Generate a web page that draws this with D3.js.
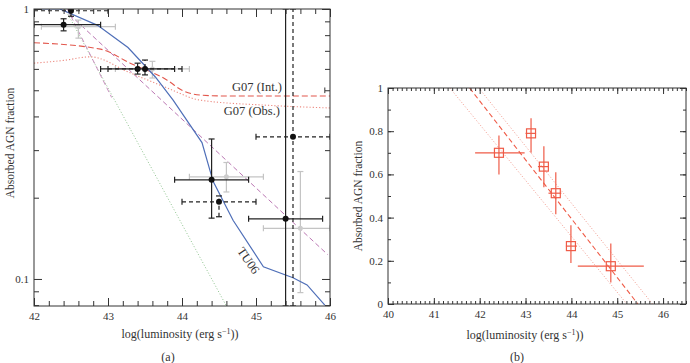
<!DOCTYPE html>
<html>
<head>
<meta charset="utf-8">
<script src="https://cdn.jsdelivr.net/npm/d3@7"></script>
<style>
  body { margin: 0; background: #fff; }
  svg { display: block; font-family: "Liberation Serif", "DejaVu Serif", serif; }
  .axis path { display: none; }
  .axis .tick line { stroke: #333; }
  .axis .tick text { font-size: 11px; fill: #333; font-family: "Liberation Serif", serif; }
  .titulo { font-size: 12px; fill: #333; }
</style>
</head>
<body>
<div id="grafica"></div>
<script>
// ---- panel (a) datos ----
const blackX    = [42.4, 42.5, 43.4, 43.5, 44.4, 44.5, 45.4, 45.5];
const blackY    = [0.875, 0.985, 0.6, 0.6, 0.233, 0.193, 0.167, 0.336];
const blackXLo  = [42.0, 42.0, 42.9, 43.0, 43.9, 44.0, 44.9, 45.0];
const blackXHi  = [42.9, 43.0, 43.9, 44.0, 44.9, 45.0, 45.9, 46.0];
const blackYLo  = [0.83, 0.94, 0.574, 0.57, 0.168, 0.17, 0.0794, 0.0794];
const blackYHi  = [0.92, 1.0, 0.63, 0.647, 0.33, 0.203, 1.0, 1.0];
const blackDash = [false, true, false, true, false, true, false, true];

const grayX   = [42.6, 43.6, 44.6, 45.6];
const grayY   = [0.86, 0.6, 0.239, 0.154];
const grayXLo = [42.1, 43.1, 44.1, 45.1];
const grayXHi = [43.1, 44.1, 45.1, 46.0];
const grayYLo = [0.78, 0.555, 0.21, 0.089];
const grayYHi = [0.91, 0.64, 0.27, 0.25];

// TU06 (linea azul)
const tuX = [42, 42.35, 42.86, 43.27, 43.64, 43.88, 44.27, 44.42, 44.69, 45.1, 45.5, 45.69, 45.93];
const tuY = [1, 1, 0.87, 0.72, 0.56, 0.46, 0.32, 0.23, 0.165, 0.111, 0.101, 0.095, 0.08];

// G07 (Int.) y G07 (Obs.)
const intX = [42, 42.9, 43.3, 43.8, 44.0, 44.25, 44.6, 46];
const intY = [0.75, 0.71, 0.63, 0.545, 0.5, 0.48, 0.476, 0.476];
const obsX = [42, 42.4, 42.76, 43.3, 43.8, 44.24, 45.15, 46];
const obsY = [0.63, 0.645, 0.665, 0.58, 0.51, 0.46, 0.44, 0.43];

// rectas de ajuste
const purpleX = [42.4, 45.97];
const purpleY = [1.0, 0.123];
const purple2X = [42.45, 43.05];
const purple2Y = [1.0, 0.47];
const greenX = [42.42, 44.6];
const greenY = [1.0, 0.0794];

// ---- panel (b) datos ----
const bX   = [42.42, 43.12, 43.4, 43.66, 43.99, 44.86];
const bY   = [0.70, 0.79, 0.636, 0.513, 0.268, 0.175];
const bXLo = [41.9, 43.0, 43.27, 43.5, 43.88, 44.14];
const bXHi = [42.98, 43.23, 43.51, 43.78, 44.12, 45.58];
const bYLo = [0.60, 0.70, 0.54, 0.415, 0.19, 0.10];
const bYHi = [0.78, 0.86, 0.73, 0.61, 0.365, 0.28];

const fitX  = [41.78, 45.45];
const fitY  = [1, 0];
const loX   = [41.35, 45.21];
const hiX   = [41.98, 45.77];

// ticks
const aMajorX = [42, 43, 44, 45, 46];
const aMinorX = d3.range(42, 46.01, 0.2);
const aMajorY = [0.1, 1];
const aMinorY = [0.08, 0.09, 0.2, 0.3, 0.4, 0.5, 0.6, 0.7, 0.8, 0.9];
const bMajorX = [40, 41, 42, 43, 44, 45, 46];
const bMinorX = d3.range(40, 46.51, 0.1);
const bMajorY = [0, 0.2, 0.4, 0.6, 0.8, 1];
const bMinorY = d3.range(0, 1.01, 0.1);

const W = 690, H = 363;
const svg = d3.select("#grafica").append("svg")
  .attr("width", W).attr("height", H);

const boxA = { left: 34, right: 330, top: 9, bottom: 306 };
const boxB = { left: 388, right: 686, top: 88, bottom: 304 };

const xA = d3.scaleLinear().domain([42, 46]).range([boxA.left, boxA.right]);
const yA = d3.scaleLog().domain([0.0794, 1]).range([boxA.bottom, boxA.top]);
const xB = d3.scaleLinear().domain([40, 46.5]).range([boxB.left, boxB.right]);
const yB = d3.scaleLinear().domain([0, 1]).range([boxB.bottom, boxB.top]);

function ejes(box, x, y, majX, minX, majY, minY, fmtY, lenMaj, lenMin) {
  const g = svg.append("g");
  const add = (axis, tr) => g.append("g").attr("class", "axis")
    .attr("transform", tr).call(axis);
  // minor
  add(d3.axisBottom(x).tickValues(minX).tickFormat("").tickSizeInner(-lenMin).tickSizeOuter(0), `translate(0,${box.bottom})`);
  add(d3.axisTop(x).tickValues(minX).tickFormat("").tickSizeInner(-lenMin).tickSizeOuter(0), `translate(0,${box.top})`);
  add(d3.axisLeft(y).tickValues(minY).tickFormat("").tickSizeInner(-lenMin).tickSizeOuter(0), `translate(${box.left},0)`);
  add(d3.axisRight(y).tickValues(minY).tickFormat("").tickSizeInner(-lenMin).tickSizeOuter(0), `translate(${box.right},0)`);
  // major
  add(d3.axisBottom(x).tickValues(majX).tickFormat(d3.format("d")).tickSizeInner(-lenMaj).tickSizeOuter(0).tickPadding(6), `translate(0,${box.bottom})`);
  add(d3.axisTop(x).tickValues(majX).tickFormat("").tickSizeInner(-lenMaj).tickSizeOuter(0), `translate(0,${box.top})`);
  add(d3.axisLeft(y).tickValues(majY).tickFormat(fmtY).tickSizeInner(-lenMaj).tickSizeOuter(0).tickPadding(5), `translate(${box.left},0)`);
  add(d3.axisRight(y).tickValues(majY).tickFormat("").tickSizeInner(-lenMaj).tickSizeOuter(0), `translate(${box.right},0)`);
  g.append("rect")
    .attr("x", box.left).attr("y", box.top)
    .attr("width", box.right - box.left).attr("height", box.bottom - box.top)
    .attr("fill", "none").attr("stroke", "#333").attr("stroke-width", 1);
}

function clip(id, box) {
  svg.append("clipPath").attr("id", id).append("rect")
    .attr("x", box.left).attr("y", box.top)
    .attr("width", box.right - box.left).attr("height", box.bottom - box.top);
}
clip("clipA", boxA);
clip("clipB", boxB);

const zip = (xs, ys) => xs.map((v, i) => [v, ys[i]]);

// ================= panel (a) =================
const pa = svg.append("g").attr("clip-path", "url(#clipA)");
const lineA = d3.line().x(d => xA(d[0])).y(d => yA(d[1]));
const curveA = d3.line().x(d => xA(d[0])).y(d => yA(d[1])).curve(d3.curveMonotoneX);

pa.append("path").attr("d", lineA(zip(greenX, greenY)))
  .attr("fill", "none").attr("stroke", "#8fc48f").attr("stroke-width", 1).attr("stroke-dasharray", "1,2");
pa.append("path").attr("d", lineA(zip(purpleX, purpleY)))
  .attr("fill", "none").attr("stroke", "#bb77b3").attr("stroke-width", 1).attr("stroke-dasharray", "5,3");
pa.append("path").attr("d", lineA(zip(purple2X, purple2Y)))
  .attr("fill", "none").attr("stroke", "#c98fbf").attr("stroke-width", 1).attr("stroke-dasharray", "5,3");
pa.append("path").attr("d", curveA(zip(intX, intY)))
  .attr("fill", "none").attr("stroke", "#e2574c").attr("stroke-width", 1.1).attr("stroke-dasharray", "6,3");
pa.append("path").attr("d", curveA(zip(obsX, obsY)))
  .attr("fill", "none").attr("stroke", "#ec8a80").attr("stroke-width", 1.1).attr("stroke-dasharray", "1.2,2");

// puntos grises
grayX.forEach((v, i) => {
  const g = pa.append("g").attr("stroke", "#c4c4c4").attr("stroke-width", 1.2);
  g.append("line").attr("x1", xA(grayXLo[i])).attr("x2", xA(grayXHi[i])).attr("y1", yA(grayY[i])).attr("y2", yA(grayY[i]));
  g.append("line").attr("x1", xA(v)).attr("x2", xA(v)).attr("y1", yA(grayYLo[i])).attr("y2", yA(grayYHi[i]));
  [grayXLo[i], grayXHi[i]].forEach(e => g.append("line")
    .attr("x1", xA(e)).attr("x2", xA(e)).attr("y1", yA(grayY[i]) - 3).attr("y2", yA(grayY[i]) + 3));
  [grayYLo[i], grayYHi[i]].forEach(e => g.append("line")
    .attr("x1", xA(v) - 3).attr("x2", xA(v) + 3).attr("y1", yA(e)).attr("y2", yA(e)));
  pa.append("circle").attr("cx", xA(v)).attr("cy", yA(grayY[i])).attr("r", 2.5).attr("fill", "#cccccc");
});

// TU06
pa.append("path").attr("d", lineA(zip(tuX, tuY)))
  .attr("fill", "none").attr("stroke", "#4f6fb8").attr("stroke-width", 1.2);

// puntos negros
blackX.forEach((v, i) => {
  const g = pa.append("g").attr("stroke", "#222").attr("stroke-width", 1.2)
    .attr("stroke-dasharray", blackDash[i] ? "4,3" : null);
  g.append("line").attr("x1", xA(blackXLo[i])).attr("x2", xA(blackXHi[i])).attr("y1", yA(blackY[i])).attr("y2", yA(blackY[i]));
  g.append("line").attr("x1", xA(v)).attr("x2", xA(v)).attr("y1", yA(blackYLo[i])).attr("y2", yA(blackYHi[i]));
  const caps = pa.append("g").attr("stroke", "#222").attr("stroke-width", 1.2);
  [blackXLo[i], blackXHi[i]].forEach(e => caps.append("line")
    .attr("x1", xA(e)).attr("x2", xA(e)).attr("y1", yA(blackY[i]) - 3).attr("y2", yA(blackY[i]) + 3));
  [blackYLo[i], blackYHi[i]].forEach(e => caps.append("line")
    .attr("x1", xA(v) - 3).attr("x2", xA(v) + 3).attr("y1", yA(e)).attr("y2", yA(e)));
  pa.append("circle").attr("cx", xA(v)).attr("cy", yA(blackY[i])).attr("r", 3).attr("fill", "#111");
});

// pequeña marca en G07 (Int.)
pa.append("line").attr("x1", xA(45.93)).attr("x2", xA(45.93))
  .attr("y1", yA(0.488)).attr("y2", yA(0.512)).attr("stroke", "#333").attr("stroke-width", 1);

ejes(boxA, xA, yA, aMajorX, aMinorX, aMajorY, aMinorY, d => d === 1 ? "1" : "0.1", 8, 5);

// etiquetas de lineas
svg.append("text").attr("class", "titulo").style("font-size", "12.5px")
  .attr("x", 282).attr("y", 91).attr("text-anchor", "end").text("G07 (Int.)");
svg.append("text").attr("class", "titulo").style("font-size", "12.5px")
  .attr("x", 280).attr("y", 115).attr("text-anchor", "end").text("G07 (Obs.)");
svg.append("text").attr("class", "titulo").style("font-size", "12.5px")
  .attr("text-anchor", "middle")
  .attr("transform", "translate(245,263) rotate(55)").text("TU06");

// titulos de ejes
function xTitulo(cx, y) {
  const t = svg.append("text").attr("class", "titulo").attr("x", cx).attr("y", y).attr("text-anchor", "middle");
  t.append("tspan").text("log(luminosity (erg s");
  t.append("tspan").attr("dy", -4.5).style("font-size", "8px").text("\u22121");
  t.append("tspan").attr("dy", 4.5).text("))");
}
xTitulo(180, 338);
xTitulo(525, 339);
svg.append("text").attr("class", "titulo").style("font-size", "11.5px").attr("text-anchor", "middle")
  .attr("transform", "translate(14,143) rotate(-90)").text("Absorbed AGN fraction");
svg.append("text").attr("class", "titulo").style("font-size", "11.5px").attr("text-anchor", "middle")
  .attr("transform", "translate(362,196) rotate(-90)").text("Absorbed AGN fraction");

svg.append("text").attr("class", "titulo").attr("x", 168).attr("y", 361).attr("text-anchor", "middle").text("(a)");
svg.append("text").attr("class", "titulo").attr("x", 517).attr("y", 361).attr("text-anchor", "middle").text("(b)");

// ================= panel (b) =================
const pb = svg.append("g").attr("clip-path", "url(#clipB)");
const lineB = d3.line().x(d => xB(d[0])).y(d => yB(d[1]));
const rojo = "#ef5b47";

pb.append("path").attr("d", lineB(zip(loX, fitY)))
  .attr("fill", "none").attr("stroke", "#f29a8e").attr("stroke-width", 1).attr("stroke-dasharray", "1,2");
pb.append("path").attr("d", lineB(zip(hiX, fitY)))
  .attr("fill", "none").attr("stroke", "#f29a8e").attr("stroke-width", 1).attr("stroke-dasharray", "1,2");
pb.append("path").attr("d", lineB(zip(fitX, fitY)))
  .attr("fill", "none").attr("stroke", rojo).attr("stroke-width", 1.1).attr("stroke-dasharray", "5,3");

bX.forEach((v, i) => {
  const g = pb.append("g").attr("stroke", rojo).attr("stroke-width", 1.2);
  g.append("line").attr("x1", xB(bXLo[i])).attr("x2", xB(bXHi[i])).attr("y1", yB(bY[i])).attr("y2", yB(bY[i]));
  g.append("line").attr("x1", xB(v)).attr("x2", xB(v)).attr("y1", yB(bYLo[i])).attr("y2", yB(bYHi[i]));
  g.append("rect").attr("x", xB(v) - 4.5).attr("y", yB(bY[i]) - 4.5)
    .attr("width", 9).attr("height", 9).attr("fill", "none");
});

ejes(boxB, xB, yB, bMajorX, bMinorX, bMajorY, bMinorY, d => d === 0 ? "0" : d === 1 ? "1" : d3.format(".1f")(d), 6, 3);
</script>
</body>
</html>
